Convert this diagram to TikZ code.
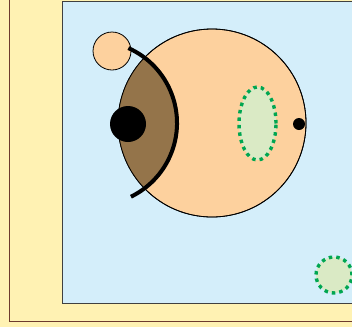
\documentclass[tikz,border=0pt]{standalone}
\usetikzlibrary{positioning}

\definecolor{paper}{HTML}{FFF2B3}
\definecolor{frame}{HTML}{6E3B2E}
\definecolor{water}{HTML}{D4EEFA}
\definecolor{skin}{HTML}{FDD19E}
\definecolor{darkskin}{HTML}{94744A}
\definecolor{spot}{HTML}{DAEAC5}
\definecolor{spotline}{HTML}{00A651}

\begin{document}
\begin{tikzpicture}[x=1pt,y=1pt,
  body/.style={fill=skin, draw=black, line width=0.8pt},
  patch/.style={fill=spot, draw=spotline, line width=3.4pt, dash pattern=on 3.5pt off 4pt},
  blackdot/.style={fill=black}]
  \useasboundingbox (0,0) rectangle (352,-327);

  % Background and frames
  \fill[paper] (0,0) rectangle (352,-327);
  \draw[frame, line width=0.8pt] (9,5) rectangle (360,-321);
  \draw[fill=water, draw=black!75, line width=0.8pt] (62,-1) rectangle (360,-303);

  % Bodies
  \draw[body] (112,-51) circle[radius=19];
  \draw[body] (212,-123) circle[radius=94];

  % Darker part of the big body
  \begin{scope}
    \clip (212,-123) circle[radius=94];
    \fill[darkskin] (95,-123) circle[radius=82];
  \end{scope}
  \draw[line width=0.8pt] (212,-123) circle[radius=94];

  % Thick arc
  \draw[line width=4pt] (95,-123) ++(66:82) arc[start angle=66, end angle=-64, radius=82];

  % Dots
  \fill[blackdot] (128,-124) circle[radius=18];
  \fill[blackdot] (299,-124) circle[radius=6];

  % Dotted patches
  \draw[patch] (257.5,-123.5) ellipse[x radius=18.5, y radius=36.5];
  \draw[patch] (334,-275) circle[radius=18];
\end{tikzpicture}
\end{document}
